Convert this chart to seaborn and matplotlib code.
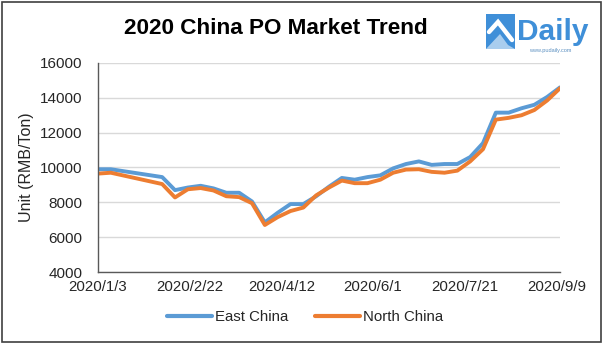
import matplotlib
matplotlib.use("Agg")
import matplotlib.pyplot as plt
from matplotlib.patches import Rectangle, Polygon
import numpy as np
import pandas as pd
import seaborn as sns

# Weekly price assessments (RMB/Ton)
dates = ["2020-01-03", "2020-01-10", "2020-02-07", "2020-02-14", "2020-02-21",
         "2020-02-28", "2020-03-06", "2020-03-13", "2020-03-20", "2020-03-27",
         "2020-04-03", "2020-04-10", "2020-04-17", "2020-04-24", "2020-05-01",
         "2020-05-08", "2020-05-15", "2020-05-22", "2020-05-29", "2020-06-05",
         "2020-06-12", "2020-06-19", "2020-06-26", "2020-07-03", "2020-07-10",
         "2020-07-17", "2020-07-24", "2020-07-31", "2020-08-07", "2020-08-14",
         "2020-08-21", "2020-08-28", "2020-09-04", "2020-09-11"]
east_china = [9900, 9900, 9450, 8700, 8850, 8950, 8800, 8550, 8550, 8050,
              6850, 7400, 7900, 7900, 8350, 8900, 9400, 9300, 9450, 9550,
              9950, 10200, 10350, 10150, 10200, 10200, 10600, 11400, 13150, 13150,
              13400, 13600, 14050, 14600]
north_china = [9650, 9700, 9050, 8280, 8750, 8820, 8680, 8350, 8300, 7950,
               6700, 7150, 7500, 7700, 8400, 8850, 9250, 9100, 9100, 9300,
               9700, 9880, 9900, 9750, 9700, 9820, 10350, 11050, 12750, 12850,
               13000, 13300, 13850, 14550]
series_names = ["East China", "North China"]
tick_dates = ["2020-01-03", "2020-02-22", "2020-04-12", "2020-06-01", "2020-07-21", "2020-09-09"]
tick_labels = ["2020/1/3", "2020/2/22", "2020/4/12", "2020/6/1", "2020/7/21", "2020/9/9"]
y_ticks = [4000, 6000, 8000, 10000, 12000, 14000, 16000]

df = pd.DataFrame({
    "date": pd.to_datetime(dates * 2),
    "price": east_china + north_china,
    "region": [series_names[0]] * len(dates) + [series_names[1]] * len(dates),
})

sns.set_theme(style="white")
plt.rcParams["font.family"] = ["Liberation Sans", "DejaVu Sans"]

fig = plt.figure(figsize=(6.02, 3.43), dpi=100)
ax = fig.add_axes([98 / 602, 1 - 272 / 343, (560 - 98) / 602, (272 - 63) / 343])

palette = {"East China": "#5b9bd5", "North China": "#ed7d31"}
sns.lineplot(data=df, x="date", y="price", hue="region", palette=palette,
             linewidth=2.8, ax=ax, legend=True)

ax.set_xlim(pd.Timestamp("2020-01-03"), pd.Timestamp("2020-09-11"))
ax.set_ylim(4000, 16000)
ax.set_yticks(y_ticks)
ax.set_xticks(pd.to_datetime(tick_dates))
ax.set_xticklabels(tick_labels)
ax.yaxis.grid(True, color="#d9d9d9", linewidth=1.0)
ax.xaxis.grid(False)
ax.set_axisbelow(True)

for side in ["top", "right"]:
    ax.spines[side].set_visible(False)
for side in ["left", "bottom"]:
    ax.spines[side].set_color("#595959")
    ax.spines[side].set_linewidth(1.0)

ax.tick_params(axis="x", which="major", direction="out", length=4, width=1,
               color="#595959", labelsize=10.8, labelcolor="#262626", pad=2)
ax.tick_params(axis="y", which="major", length=0, labelsize=11,
               labelcolor="#262626", pad=11)
ax.set_xlabel("")
ax.set_ylabel("Unit (RMB/Ton)", fontsize=11.5, color="#262626")
ax.yaxis.set_label_coords(-0.138, 0.5)

handles, labels = ax.get_legend_handles_labels()
leg = ax.legend(handles, labels, loc="center", bbox_to_anchor=(305 / 602, 1 - 317 / 343),
                bbox_transform=fig.transFigure, ncol=2, frameon=False,
                fontsize=10.8, handlelength=3.0, handletextpad=0.2, columnspacing=1.8)
for line in leg.get_lines():
    line.set_linewidth(3.0)
for t in leg.get_texts():
    t.set_color("#262626")

fig.text(276 / 602, 1 - 28 / 343, "2020 China PO Market Trend", ha="center", va="center",
         fontsize=16.2, fontweight="bold", color="#000000")

# Brand mark in the top-right corner
logo_blue = "#3f8fd8"
fig.patches.append(Rectangle((486 / 602, 1 - 49 / 343), 29 / 602, 35 / 343,
                             transform=fig.transFigure, facecolor=logo_blue,
                             edgecolor="none", zorder=5))
fig.lines.append(plt.Line2D([489 / 602, 498 / 602, 512 / 602],
                            [1 - 32 / 343, 1 - 22 / 343, 1 - 40 / 343],
                            transform=fig.transFigure, color="white", linewidth=3.2,
                            solid_joinstyle="miter", zorder=6))
fig.patches.append(Polygon([(486 / 602, 1 - 49 / 343), (500 / 602, 1 - 34 / 343),
                            (508 / 602, 1 - 45 / 343), (515 / 602, 1 - 49 / 343)],
                           closed=True, transform=fig.transFigure,
                           facecolor="#a9cdee", edgecolor="none", zorder=6))
fig.text(517 / 602, 1 - 39.5 / 343, "Daily", ha="left", va="baseline",
         fontsize=21.5, fontweight="bold", color=logo_blue)
fig.text(550 / 602, 1 - 50.5 / 343, "www.pudaily.com", ha="center", va="center",
         fontsize=4.0, color="#5a8fc0")

# Outer frame around the whole figure
fig.patches.append(Rectangle((1.5 / 602, 1.5 / 343), 599 / 602, 340 / 343,
                             transform=fig.transFigure, facecolor="none",
                             edgecolor="#404040", linewidth=1.2, zorder=10))

fig.savefig("out.png", dpi=100)
